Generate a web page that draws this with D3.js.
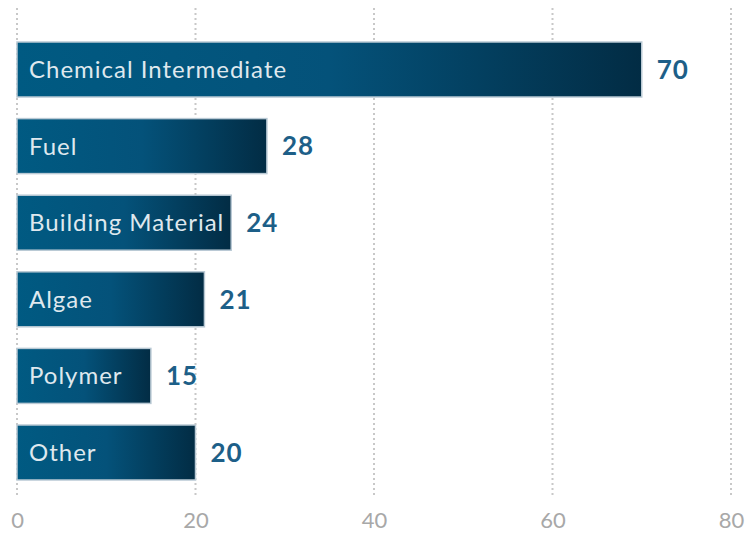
<!DOCTYPE html>
<html>
<head>
<meta charset="utf-8">
<script src="https://cdn.jsdelivr.net/npm/d3@7"></script>
<style>
  html, body { margin: 0; padding: 0; background: #ffffff; }
  svg { display: block; }
</style>
</head>
<body>
<svg id="chart" width="749" height="536"></svg>
<script>
// Application categories and their counts
const categories = ["Chemical Intermediate", "Fuel", "Building Material", "Algae", "Polymer", "Other"];
const values = [70, 28, 24, 21, 15, 20];
const tickValues = [0, 20, 40, 60, 80];

const svg = d3.select("#chart");

const x = d3.scaleLinear().domain([0, 80]).range([17, 731]);
const y = d3.scaleBand().domain(categories).range([20.4, 501.6])
  .paddingInner(0.282).paddingOuter(0.282);

// Bar fill: steady blue on the left, deepening to navy on the right
const defs = svg.append("defs");
const grad = defs.append("linearGradient")
  .attr("id", "barFill")
  .attr("x1", "0%").attr("x2", "100%").attr("y1", "0%").attr("y2", "0%");
grad.append("stop").attr("offset", "0%").attr("stop-color", "#005a82");
grad.append("stop").attr("offset", "50%").attr("stop-color", "#04527a");
grad.append("stop").attr("offset", "100%").attr("stop-color", "#022c44");

// Dotted vertical gridlines
svg.append("g")
  .selectAll("line")
  .data(tickValues)
  .join("line")
  .attr("x1", d => x(d)).attr("x2", d => x(d))
  .attr("y1", 8).attr("y2", 497)
  .attr("stroke", "#c8c8c8")
  .attr("stroke-width", 2)
  .attr("stroke-dasharray", "2,3");

// x-axis tick labels
const axis = d3.axisBottom(x).tickValues(tickValues).tickSize(0).tickPadding(0);
const axisG = svg.append("g")
  .attr("transform", "translate(0,512)")
  .call(axis);
axisG.select(".domain").remove();
axisG.selectAll("text")
  .attr("font-family", "Lato, sans-serif")
  .attr("font-size", 22)
  .attr("fill", "#a8a8a8");

const rows = categories.map((c, i) => ({ name: c, value: values[i] }));

// Bars
svg.append("g")
  .selectAll("rect")
  .data(rows)
  .join("rect")
  .attr("x", x(0))
  .attr("y", d => y(d.name))
  .attr("width", d => x(d.value) - x(0))
  .attr("height", y.bandwidth())
  .attr("fill", "url(#barFill)")
  .attr("stroke", "#b9c9d4")
  .attr("stroke-width", 1.5);

// Category names inside the bars
svg.append("g")
  .selectAll("text")
  .data(rows)
  .join("text")
  .attr("x", x(0) + 12)
  .attr("y", d => y(d.name) + y.bandwidth() / 2)
  .attr("dy", "0.35em")
  .attr("font-family", "Lato, sans-serif")
  .attr("font-size", 24)
  .attr("letter-spacing", 1)
  .attr("fill", "#dfe8ee")
  .text(d => d.name);

// Value labels past the bar ends
svg.append("g")
  .selectAll("text")
  .data(rows)
  .join("text")
  .attr("x", d => x(d.value) + 15)
  .attr("y", d => y(d.name) + y.bandwidth() / 2)
  .attr("dy", "0.36em")
  .attr("font-family", "Lato, sans-serif")
  .attr("font-weight", "bold")
  .attr("font-size", 26)
  .attr("letter-spacing", 1)
  .attr("fill", "#1d5f88")
  .text(d => d.value);
</script>
</body>
</html>
